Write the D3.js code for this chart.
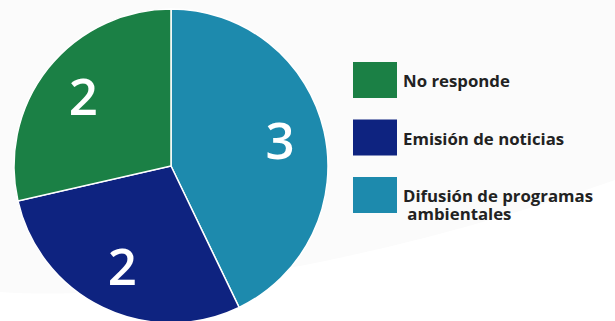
<!DOCTYPE html>
<html>
<head>
<meta charset="utf-8">
<script src="https://cdn.jsdelivr.net/npm/d3@7"></script>
<style>
  body { margin: 0; background: #fff; }
  svg { display: block; }
</style>
</head>
<body>
<div id="chart"></div>
<script>
"use strict";
(function() {

const WIDTH = 615
const HEIGHT = 321

// legend order (top to bottom)
const categories = ["No responde", "Emisión de noticias", "Difusión de programas ambientales"]
const values = [2, 2, 3]
const colors = ["#1b8045", "#0e2380", "#1d8aad"]
const legendLines = [["No responde"], ["Emisión de noticias"], ["Difusión de programas", " ambientales"]]

const CX = 171, CY = 166, R = 157
const LABEL_R = 112

var svg = d3.select("#chart").append("svg")
    .attr("width", WIDTH)
    .attr("height", HEIGHT)

// faint background sweep
svg.append("rect")
    .attr("width", WIDTH).attr("height", HEIGHT)
    .attr("fill", "#fbfbfb")
svg.append("path")
    .attr("d", `M0,292 C150,302 380,262 ${WIDTH},180 L${WIDTH},${HEIGHT} L0,${HEIGHT} Z`)
    .attr("fill", "#ffffff")

let data = categories.map((c, i) => ({ cat: c, value: values[i], color: colors[i] }))

// pie runs clockwise from 12 o'clock: Difusión, Emisión, No responde
let pie = d3.pie().sort(null).value(d => d.value)
let arcs = pie(data.slice().reverse())

let arc = d3.arc().innerRadius(0).outerRadius(R)
let labelArc = d3.arc().innerRadius(LABEL_R).outerRadius(LABEL_R)

let g = svg.append("g").attr("transform", `translate(${CX},${CY})`)

g.selectAll("path.slice")
    .data(arcs)
    .join("path")
    .attr("class", "slice")
    .attr("d", arc)
    .attr("fill", d => d.data.color)
    .attr("stroke", "#ffffff")
    .attr("stroke-width", 1.5)

g.selectAll("text.val")
    .data(arcs)
    .join("text")
    .attr("class", "val")
    .attr("transform", d => `translate(${labelArc.centroid(d)})`)
    .attr("text-anchor", "middle")
    .attr("dy", "0.36em")
    .attr("fill", "#ffffff")
    .attr("font-family", "'Open Sans', sans-serif")
    .attr("font-weight", 600)
    .attr("font-size", "51px")
    .text(d => d.data.value)

// legend
let legend = svg.append("g").attr("transform", "translate(353,62)")
let items = legend.selectAll("g.item")
    .data(data)
    .join("g")
    .attr("class", "item")
    .attr("transform", (d, i) => `translate(0, ${i * 57.5})`)

items.append("rect")
    .attr("width", 44)
    .attr("height", 36)
    .attr("fill", d => d.color)

items.each(function(d, i) {
    let t = d3.select(this).append("text")
        .attr("x", 50)
        .attr("y", 25)
        .attr("fill", "#222")
        .attr("font-family", "'Open Sans', sans-serif")
        .attr("font-weight", "bold")
        .attr("font-size", "16.8px")
        .attr("xml:space", "preserve")
    legendLines[i].forEach((line, j) => {
        t.append("tspan")
            .attr("x", 50)
            .attr("dy", j === 0 ? 0 : 17.5)
            .text(line)
    })
})

})();
</script>
</body>
</html>
